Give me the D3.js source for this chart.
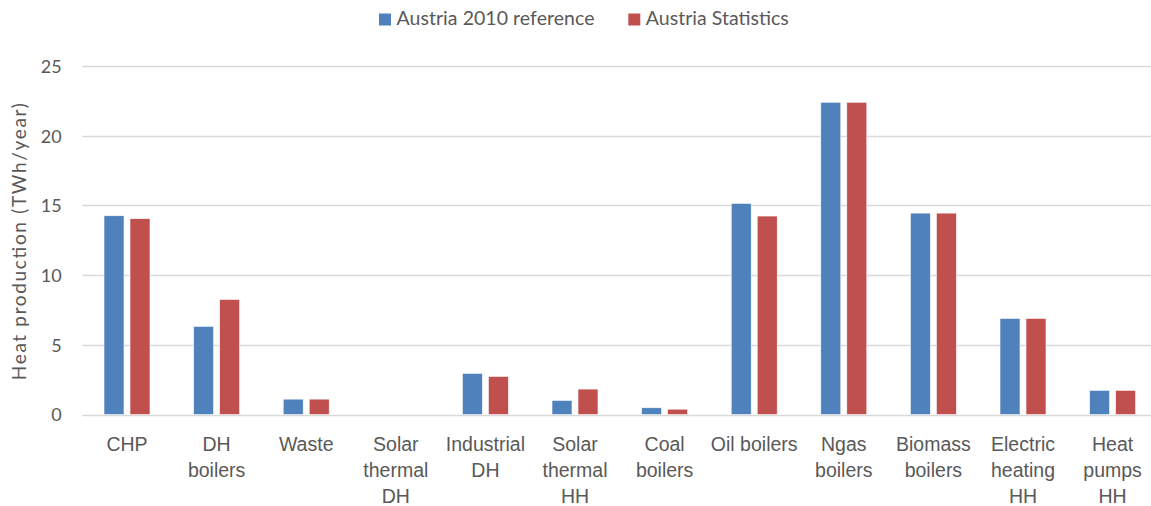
<!DOCTYPE html>
<html>
<head>
<meta charset="utf-8">
<script src="https://cdn.jsdelivr.net/npm/d3@7"></script>
<style>
  html, body { margin: 0; padding: 0; background: #fff; }
  svg { display: block; font-family: Lato, "Open Sans", sans-serif; }
</style>
</head>
<body>
<svg id="chart" width="1151" height="506"></svg>
<script>
// ---- data ----
const categories = [
  "CHP", "DH\nboilers", "Waste", "Solar\nthermal\nDH", "Industrial\nDH",
  "Solar\nthermal\nHH", "Coal\nboilers", "Oil boilers", "Ngas\nboilers",
  "Biomass\nboilers", "Electric\nheating\nHH", "Heat\npumps\nHH"
];
const seriesNames = ["Austria 2010 reference", "Austria Statistics"];
const reference2010 = [14.26, 6.33, 1.11, 0, 2.96, 1.02, 0.49, 15.15, 22.4, 14.45, 6.9, 1.74];
const statistics    = [14.05, 8.26, 1.11, 0, 2.74, 1.83, 0.39, 14.24, 22.4, 14.45, 6.9, 1.74];
const yTicks = [0, 5, 10, 15, 20, 25];
const colors = ["#4f81bd", "#c0504d"];

// ---- layout ----
const svg = d3.select("#chart");
const plotLeft = 82.2, plotRight = 1157.4, plotTop = 66, plotBottom = 414.6;

const x0 = d3.scaleBand().domain(d3.range(categories.length)).range([plotLeft, plotRight]).paddingInner(0).paddingOuter(0);
const x1 = d3.scaleBand().domain(d3.range(seriesNames.length)).range([-23, 23]).paddingInner(6 / 26).paddingOuter(0);
const y = d3.scaleLinear().domain([0, 25]).range([plotBottom, plotTop]);

// gridlines
const grid = svg.append("g").attr("class", "grid");
grid.selectAll("line").data(yTicks).join("line")
  .attr("x1", plotLeft).attr("x2", 1151)
  .attr("y1", d => Math.round(y(d)) + 0.5).attr("y2", d => Math.round(y(d)) + 0.5)
  .attr("stroke", "#d9d9d9").attr("stroke-width", 1.3);

// y axis (labels only)
const yAxis = d3.axisLeft(y).tickValues(yTicks).tickSize(0).tickPadding(0);
const gy = svg.append("g").attr("transform", `translate(${61.7},0)`).call(yAxis);
gy.select(".domain").remove();
gy.selectAll("text").attr("font-size", 18).attr("fill", "#595959")
  .attr("font-family", "Lato, 'Open Sans', sans-serif").attr("dy", "0.35em");

// y title
svg.append("text")
  .attr("transform", `translate(26,${241.7}) rotate(-90)`)
  .attr("text-anchor", "middle").attr("font-size", 19).attr("fill", "#595959")
  .attr("textLength", 277).attr("lengthAdjust", "spacing")
  .text("Heat production (TWh/year)");

// bars
const seriesData = [reference2010, statistics];
const barsG = svg.append("g");
seriesData.forEach((vals, si) => {
  barsG.append("g").selectAll("rect").data(vals).join("rect")
    .attr("x", (d, i) => x0(i) + x0.bandwidth() / 2 + x1(si))
    .attr("width", x1.bandwidth())
    .attr("y", d => y(d))
    .attr("height", d => y(0) - y(d))
    .attr("fill", colors[si])
    .attr("stroke", d => d > 0 ? "#ffffff" : "none")
    .attr("stroke-width", 0.6);
});

// x axis labels
const xAxis = d3.axisBottom(x0).tickSize(0).tickFormat("");
const gx = svg.append("g").attr("transform", `translate(0,${plotBottom})`).call(xAxis);
gx.select(".domain").remove();
gx.selectAll(".tick").each(function(d) {
  const t = d3.select(this).append("text")
    .attr("text-anchor", "middle").attr("font-size", 19.5).attr("fill", "#595959");
  categories[d].split("\n").forEach((line, li) => {
    t.append("tspan").attr("x", 0).attr("y", 36 + li * 26.4).text(line);
  });
});

// legend
const legendItems = [
  { name: seriesNames[0], color: colors[0], x: 379, w: 198 },
  { name: seriesNames[1], color: colors[1], x: 628.3, w: 143 }
];
const lg = svg.append("g");
legendItems.forEach(it => {
  lg.append("rect").attr("x", it.x).attr("y", 13.5).attr("width", 12).attr("height", 12).attr("fill", it.color);
  lg.append("text").attr("x", it.x + 17.5).attr("y", 25.3)
    .attr("font-size", 19.5).attr("fill", "#595959")
    .attr("textLength", it.w).attr("lengthAdjust", "spacing").text(it.name);
});
</script>
</body>
</html>
